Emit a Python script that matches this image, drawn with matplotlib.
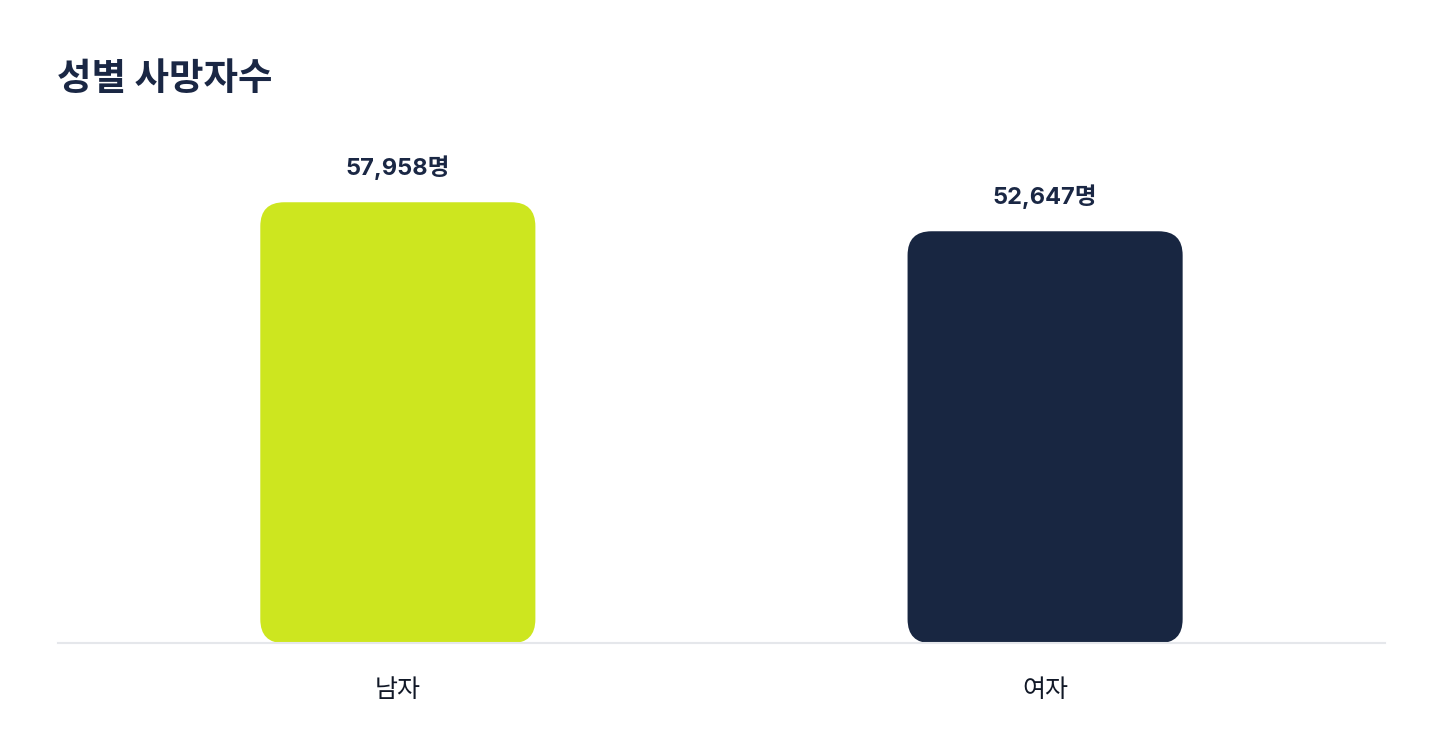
import matplotlib
matplotlib.use("Agg")
import matplotlib.pyplot as plt
from matplotlib.patches import FancyBboxPatch

plt.rcParams['font.family'] = ['Inter', 'Noto Sans CJK KR', 'DejaVu Sans']

# Data
categories = ['남자', '여자']
deaths = [57958, 52647]
colors = ['#cde61f', '#182641']
title = '성별 사망자수'

y_min, y_max = -22800, 67500

fig = plt.figure(figsize=(14.47, 7.36), dpi=100)
ax = fig.add_axes([0.0401, 0.126, 0.917, 0.670])
ax.set_xlim(-0.525, 1.525)
ax.set_ylim(y_min, y_max)

bar_w = 0.425
x_pos = list(range(len(categories)))

# aspect factor: y units per pixel / x units per pixel
fig.canvas.draw()
bbox = ax.get_window_extent()
x_per_px = (1.525 + 0.525) / bbox.width
y_per_px = (y_max - y_min) / bbox.height
radius_px = 24

for x, v, c in zip(x_pos, deaths, colors):
    patch = FancyBboxPatch((x - bar_w / 2, y_min), bar_w, v - y_min,
                           boxstyle=f"round,pad=0,rounding_size={radius_px * x_per_px}",
                           mutation_aspect=y_per_px / x_per_px,
                           facecolor=c, edgecolor='none', zorder=2)
    ax.add_patch(patch)
    ax.annotate(f"{v:,}명", (x, v), xytext=(0, 25), textcoords='offset points',
                ha='center', va='center', fontsize=17, fontweight='bold',
                color='#1a2744')

ax.set_xticks(x_pos)
ax.set_xticklabels(categories, fontsize=18, color='#111827', fontweight='medium',
                   family=['Noto Sans CJK KR', 'DejaVu Sans'])
ax.tick_params(axis='x', length=0, pad=24)
ax.set_yticks([])
for s in ['top', 'left', 'right']:
    ax.spines[s].set_visible(False)
ax.spines['bottom'].set_color('#e5e7eb')
ax.spines['bottom'].set_linewidth(1.5)

fig.text(57 / 1447, 0.894, title, fontsize=27, fontweight='bold',
         color='#1a2744', ha='left', va='center',
         family=['Noto Sans CJK KR', 'DejaVu Sans'])

fig.savefig('out.png', dpi=100, facecolor='white')
